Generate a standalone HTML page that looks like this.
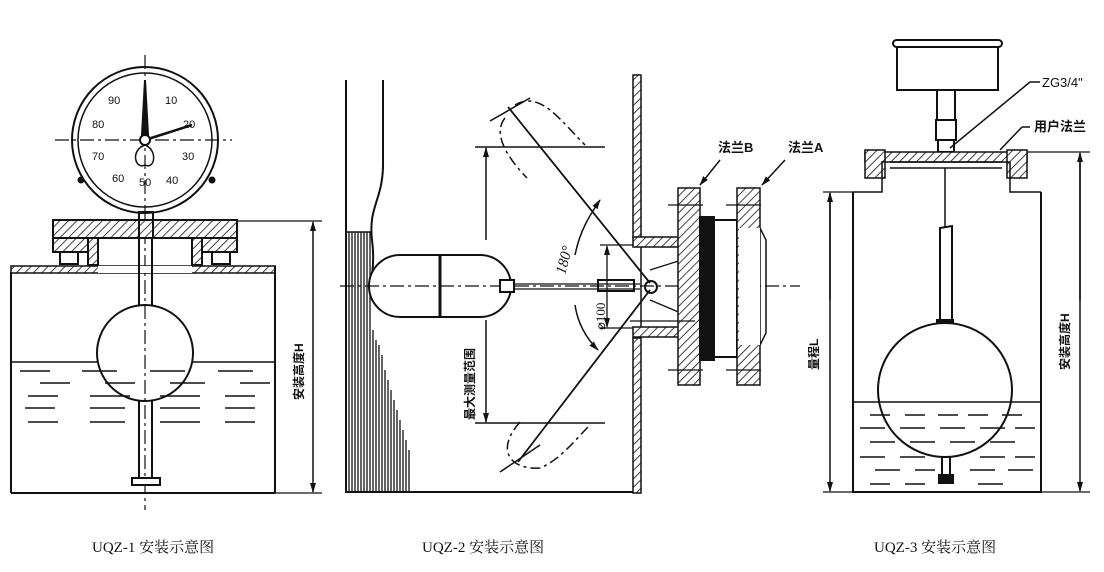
<!DOCTYPE html>
<html><head><meta charset="utf-8"><style>
body{margin:0;background:#fff;}
svg{display:block}
text{font-family:"Liberation Sans","Noto Sans CJK SC",sans-serif;fill:#111}
text.cap{font-family:"Liberation Serif","Noto Serif CJK SC",serif;}
</style></head><body>
<svg width="1104" height="572" viewBox="0 0 1104 572" xmlns="http://www.w3.org/2000/svg">
<defs>
<pattern id="h" width="6" height="6" patternUnits="userSpaceOnUse" patternTransform="rotate(45)">
<rect width="6" height="6" fill="#fff"/><line x1="0" y1="0" x2="0" y2="6" stroke="#111" stroke-width="1.6"/></pattern>
<marker id="a" markerWidth="10" markerHeight="10" refX="9" refY="5" orient="auto" markerUnits="userSpaceOnUse"><path d="M0,2 L10,5 L0,8 Z" fill="#111"/></marker>
</defs>
<g stroke="#111" stroke-width="2" fill="none">
<!-- ===== Panel 1 ===== -->
<circle cx="145" cy="140" r="73"/><circle cx="145" cy="140" r="67" stroke-width="1.5"/>
<line x1="55" y1="140" x2="232" y2="140" stroke-width="1.2" stroke-dasharray="14,4,3,4"/>
<line x1="145" y1="55" x2="145" y2="510" stroke-width="1.2" stroke-dasharray="14,4,3,4"/>
<path d="M145,80 L148,135 L142,135 Z" fill="#111"/>
<line x1="145" y1="140" x2="192" y2="125" stroke-width="2.5"/>
<circle cx="145" cy="140" r="5" fill="#fff"/>
<path d="M145,145 C130,150 135,170 145,165 C155,170 158,150 145,145" stroke-width="1.5"/>
<circle cx="81" cy="180" r="2.5" fill="#111"/><circle cx="212" cy="180" r="2.5" fill="#111"/>
<rect x="53" y="220" width="184" height="18" fill="url(#h)"/>
<rect x="53" y="238" width="40" height="14" fill="url(#h)"/><rect x="197" y="238" width="40" height="14" fill="url(#h)"/>
<rect x="88" y="238" width="10" height="27" fill="url(#h)"/><rect x="192" y="238" width="10" height="27" fill="url(#h)"/>
<rect x="60" y="252" width="18" height="12"/><rect x="212" y="252" width="18" height="12"/>
<rect x="139" y="212" width="14" height="26"/>
<rect x="11" y="266" width="264" height="7" fill="url(#h)" stroke-width="1.5"/>
<rect x="98" y="266" width="94" height="7" fill="#fff" stroke="none"/>
<line x1="11" y1="272" x2="11" y2="493"/><line x1="275" y1="266" x2="275" y2="493"/>
<line x1="11" y1="493" x2="275" y2="493"/>
<line x1="11" y1="362" x2="275" y2="362" stroke-width="1.5"/>
<line x1="139" y1="238" x2="139" y2="480"/><line x1="152" y1="238" x2="152" y2="480"/>
<circle cx="145" cy="353" r="48" fill="#fff"/>
<line x1="145" y1="305" x2="145" y2="401" stroke-width="1.2" stroke-dasharray="14,4,3,4"/>
<rect x="132" y="478" width="28" height="7" fill="#fff"/>
<g stroke-width="1.5">
<path d="M20,371h30M82,371h35M150,371h35M218,371h35M40,383h30M105,383h30M170,383h35M240,383h30M28,396h30M90,396h40M160,396h40M225,396h30M25,408h30M90,408h35M160,408h40M225,408h30M28,422h30M90,422h35M160,422h40M225,422h30"/>
</g>
<line x1="236" y1="221" x2="322" y2="221" stroke-width="1.2"/>
<line x1="275" y1="493" x2="322" y2="493" stroke-width="1.2"/>
<line x1="313" y1="230" x2="313" y2="222" marker-end="url(#a)" stroke-width="1.5"/>
<line x1="313" y1="226" x2="313" y2="492" marker-end="url(#a)" stroke-width="1.5"/>
<!-- ===== Panel 2 ===== -->
<line x1="346" y1="80" x2="346" y2="493"/>
<path d="M383,80 L383,160 C384,200 368,205 372,240 C376,270 368,285 372,300"/>
<g stroke-width="1.3"><path d="M349,232v261M352,232v261M355,232v261M358,232v261M361,232v261M364,232v261M367,232v261M370,232v261M373,330v163M376,340v153M379,345v148M382,355v138M385,370v123M388,380v113M391,390v103M394,400v93M397,410v83M400,420v73M403,430v63M406,440v53M409,450v43"/></g>
<line x1="346" y1="232" x2="372" y2="232" stroke-width="1.5"/>
<line x1="346" y1="492" x2="641" y2="492"/>
<rect x="633" y="75" width="8" height="163" fill="url(#h)" stroke-width="1.5"/>
<rect x="633" y="338" width="8" height="155" fill="url(#h)" stroke-width="1.5"/>
<path d="M400,255 L480,255 A31,31 0 0 1 480,317 L400,317 A31,31 0 0 1 400,255 Z" fill="#fff"/>
<line x1="440" y1="255" x2="440" y2="317" stroke-width="3"/>
<line x1="340" y1="286" x2="800" y2="286" stroke-width="1.2" stroke-dasharray="14,4,3,4"/>
<rect x="500" y="280" width="14" height="12" fill="#fff"/>
<line x1="514" y1="284" x2="640" y2="284" stroke-width="1.3"/><line x1="514" y1="289" x2="640" y2="289" stroke-width="1.3"/>
<rect x="598" y="280" width="36" height="11"/>
<circle cx="651" cy="287" r="6"/>
<line x1="508" y1="107" x2="650" y2="283" stroke-width="1.8"/>
<line x1="650" y1="290" x2="518" y2="462" stroke-width="1.8"/>
<line x1="490" y1="121" x2="530" y2="98" stroke-width="1.5"/>
<line x1="500" y1="472" x2="540" y2="445" stroke-width="1.5"/>
<path d="M515,105 C540,90 560,120 585,145" stroke-width="1.5" stroke-dasharray="10,4,3,4"/>
<path d="M505,118 C495,130 500,150 527,178" stroke-width="1.5" stroke-dasharray="10,4,3,4"/>
<path d="M520,422 C495,450 510,470 540,468 C560,460 575,440 590,425" stroke-width="1.5" stroke-dasharray="10,4,3,4"/>
<line x1="475" y1="147" x2="605" y2="147" stroke-width="1.5"/>
<line x1="475" y1="423" x2="605" y2="423" stroke-width="1.5"/>
<line x1="486" y1="240" x2="486" y2="148" marker-end="url(#a)" stroke-width="1.5"/>
<line x1="486" y1="320" x2="486" y2="422" marker-end="url(#a)" stroke-width="1.5"/>
<path d="M575,255 C580,230 590,215 600,200" marker-end="url(#a)" stroke-width="1.5"/>
<path d="M575,305 C578,325 588,340 598,350" marker-end="url(#a)" stroke-width="1.5"/>
<line x1="600" y1="245" x2="633" y2="245" stroke-width="1.3"/><line x1="600" y1="328" x2="633" y2="328" stroke-width="1.3"/>
<line x1="607" y1="250" x2="607" y2="246" marker-end="url(#a)" stroke-width="1.3"/>
<line x1="607" y1="250" x2="607" y2="327" marker-end="url(#a)" stroke-width="1.3"/>
<rect x="633" y="237" width="53" height="10" fill="url(#h)" stroke-width="1.5"/>
<rect x="633" y="327" width="53" height="10" fill="url(#h)" stroke-width="1.5"/>
<line x1="641" y1="247" x2="641" y2="327" stroke-width="1.5"/>
<line x1="650" y1="270" x2="688" y2="258" stroke-width="1.3"/><line x1="650" y1="300" x2="688" y2="316" stroke-width="1.3"/>
<rect x="686" y="253" width="30" height="65"/>
<rect x="678" y="188" width="22" height="197" fill="url(#h)" stroke-width="1.5"/>
<rect x="700" y="217" width="14" height="143" fill="#111"/>
<rect x="714" y="220" width="23" height="137" fill="#fff"/>
<rect x="737" y="188" width="23" height="197" fill="url(#h)" stroke-width="1.5"/>
<path d="M760,228 L766,240 L766,333 L760,345" stroke-width="1.5"/>
<rect x="739" y="228" width="21" height="117" fill="#fff" stroke="none"/>
<g stroke-width="1.3"><path d="M668,205h35M726,205h35M668,370h35M726,370h35"/></g>
<line x1="630" y1="321" x2="695" y2="321" stroke-width="1.3"/>
<line x1="720" y1="160" x2="700" y2="185" marker-end="url(#a)" stroke-width="1.5"/>
<line x1="785" y1="160" x2="762" y2="185" marker-end="url(#a)" stroke-width="1.5"/>
<!-- ===== Panel 3 ===== -->
<rect x="897" y="43" width="101" height="47"/>
<rect x="893" y="40" width="109" height="7" rx="3.5" fill="#fff"/>
<rect x="937" y="90" width="18" height="30"/><rect x="936" y="120" width="20" height="20"/>
<rect x="938" y="140" width="16" height="12"/>
<rect x="865" y="152" width="162" height="10" fill="url(#h)" stroke-width="1.5"/>
<rect x="865" y="150" width="20" height="28" fill="url(#h)" stroke-width="1.5"/>
<rect x="1007" y="150" width="20" height="28" fill="url(#h)" stroke-width="1.5"/>
<path d="M885,162h-3v30h-29M1007,162h3v30h31" stroke-width="1.5"/>
<path d="M853,192V492H1041V192"/>
<line x1="890" y1="162" x2="1002" y2="162" stroke-width="1.5"/>
<line x1="890" y1="168" x2="1002" y2="168" stroke-width="1.5"/>
<line x1="945" y1="168" x2="945" y2="228" stroke-width="1.5"/>
<path d="M940,228 L952,226 L952,322 L940,322 Z"/>
<rect x="937" y="320" width="16" height="6" fill="#111"/>
<circle cx="945" cy="390" r="67" fill="#fff"/>
<line x1="853" y1="402" x2="1041" y2="402" stroke-width="1.5"/>
<rect x="942" y="457" width="8" height="18"/><rect x="939" y="475" width="14" height="8" fill="#111"/>
<g stroke-width="1.5"><path d="M870,415h20M905,415h20M938,415h20M968,415h20M1002,415h20M860,428h25M900,428h25M940,428h25M980,428h25M1015,428h20M870,442h25M910,442h25M950,442h25M990,442h25M860,457h25M900,457h25M980,457h25M1015,457h20M875,470h25M915,470h20M970,470h25M1008,470h25M870,484h20M905,484h20M978,484h25"/></g>
<line x1="830" y1="193" x2="830" y2="491" stroke-width="1.5" marker-end="url(#a)"/>
<line x1="830" y1="300" x2="830" y2="193" stroke-width="1.5" marker-end="url(#a)"/>
<line x1="823" y1="192" x2="853" y2="192" stroke-width="1.2"/>
<line x1="823" y1="492" x2="1090" y2="492" stroke-width="1.2"/>
<line x1="1027" y1="152" x2="1090" y2="152" stroke-width="1.2"/>
<line x1="1080" y1="153" x2="1080" y2="491" stroke-width="1.5" marker-end="url(#a)"/>
<line x1="1080" y1="300" x2="1080" y2="153" stroke-width="1.5" marker-end="url(#a)"/>
<line x1="950" y1="148" x2="1030" y2="82" stroke-width="1.5"/><line x1="1030" y1="82" x2="1040" y2="82" stroke-width="1.5"/>
<line x1="1000" y1="150" x2="1022" y2="127" stroke-width="1.5"/><line x1="1022" y1="127" x2="1030" y2="127" stroke-width="1.5"/>
</g>
<!-- text -->
<g font-size="11">
<text x="108" y="104">90</text><text x="165" y="104">10</text><text x="92" y="128">80</text>
<text x="183" y="128">20</text><text x="92" y="160">70</text><text x="182" y="160">30</text>
<text x="112" y="182">60</text><text x="139" y="186">50</text><text x="166" y="184">40</text>
</g>
<text x="0" y="0" font-size="12" font-weight="bold" transform="translate(303,400) rotate(-90)">安装高度H</text>
<text x="0" y="0" font-size="12" font-weight="bold" transform="translate(474,420) rotate(-90)">最大测量范围</text>
<text class="cap" x="0" y="0" font-size="15" font-style="italic" transform="translate(565,275) rotate(-75)">180°</text>
<text class="cap" x="0" y="0" font-size="13" transform="translate(605,330) rotate(-90)">⌀100</text>
<text x="718" y="152" font-size="13" font-weight="bold">法兰B</text>
<text x="788" y="152" font-size="13" font-weight="bold">法兰A</text>
<text x="1042" y="87" font-size="13">ZG3/4"</text>
<text x="1034" y="131" font-size="13" font-weight="bold">用户法兰</text>
<text x="0" y="0" font-size="12" font-weight="bold" transform="translate(818,370) rotate(-90)">量程L</text>
<text x="0" y="0" font-size="12" font-weight="bold" transform="translate(1069,370) rotate(-90)">安装高度H</text>
<text class="cap" x="92" y="552" font-size="15">UQZ-1 安装示意图</text>
<text class="cap" x="422" y="552" font-size="15">UQZ-2 安装示意图</text>
<text class="cap" x="874" y="552" font-size="15">UQZ-3 安装示意图</text>
</svg>
</body></html>
